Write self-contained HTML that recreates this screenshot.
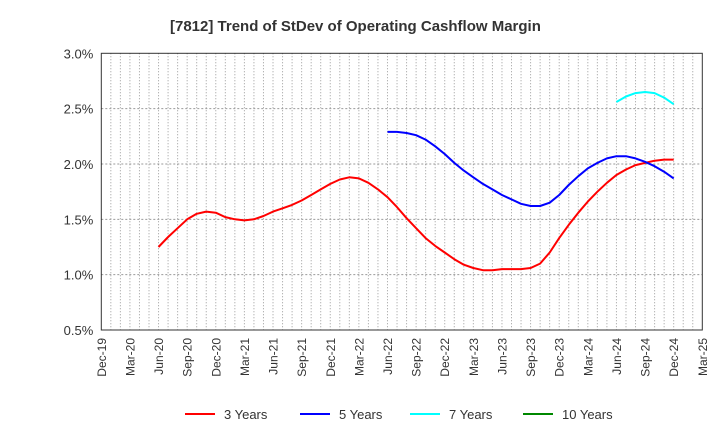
<!DOCTYPE html>
<html><head><meta charset="utf-8"><style>
body{margin:0;background:#fff;font-family:"Liberation Sans",sans-serif;}
</style></head><body>
<svg id="c" width="720" height="440" xmlns="http://www.w3.org/2000/svg">
<text x="170" y="31" font-size="15" font-weight="bold" fill="#333">[7812]  Trend of StDev of Operating Cashflow Margin</text>
<g id="grid"></g><g id="series"></g><g id="axes"></g><g id="legend"></g>
</svg>
<script>
const xTickLabels=["Dec-19","Mar-20","Jun-20","Sep-20","Dec-20","Mar-21","Jun-21","Sep-21","Dec-21","Mar-22","Jun-22","Sep-22","Dec-22","Mar-23","Jun-23","Sep-23","Dec-23","Mar-24","Jun-24","Sep-24","Dec-24","Mar-25"];
const yTicks=[0.5,1.0,1.5,2.0,2.5,3.0];
const start3=6;
const s3=[1.25,1.34,1.42,1.50,1.55,1.57,1.56,1.52,1.50,1.49,1.50,1.53,1.57,1.60,1.63,1.67,1.72,1.77,1.82,1.86,1.88,1.87,1.83,1.77,1.70,1.61,1.51,1.42,1.33,1.26,1.20,1.14,1.09,1.06,1.04,1.04,1.05,1.05,1.05,1.06,1.10,1.20,1.33,1.45,1.56,1.66,1.75,1.83,1.90,1.95,1.99,2.01,2.03,2.04,2.04];
const start5=30;
const s5=[2.29,2.29,2.28,2.26,2.22,2.16,2.09,2.01,1.94,1.88,1.82,1.77,1.72,1.68,1.64,1.62,1.62,1.65,1.72,1.81,1.89,1.96,2.01,2.05,2.07,2.07,2.05,2.02,1.98,1.93,1.87];
const start7=54;
const s7=[2.56,2.61,2.64,2.65,2.64,2.60,2.54];
const X0=101.3,X1=702.3,Y0=330,Y1=53.3,NM=63;
const xs=m=>X0+(X1-X0)*m/NM;
const ys=v=>Y0-(v-0.5)/2.5*(Y0-Y1);
const NS="http://www.w3.org/2000/svg";
function mk(t,a,p){const e=document.createElementNS(NS,t);for(const k in a)e.setAttribute(k,a[k]);p.appendChild(e);return e;}
const grid=document.getElementById('grid'),axes=document.getElementById('axes'),ser=document.getElementById('series'),leg=document.getElementById('legend');
for(let m=1;m<NM;m++){const l=mk('line',{x1:xs(m),x2:xs(m),y1:Y1,y2:Y0,stroke:'#999','stroke-dasharray':'1,2','stroke-width':1},grid);

}
yTicks.forEach(v=>{if(v>0.5&&v<3){const l=mk('line',{x1:X0,x2:X1,y1:ys(v),y2:ys(v),stroke:'#999','stroke-dasharray':'2,2'},grid);

}
const t=mk('text',{x:X0-8,y:ys(v)+5,'text-anchor':'end','font-size':13,fill:'#333'},axes);t.textContent=v.toFixed(1)+'%';

});
const fr=mk('rect',{x:X0,y:Y1,width:X1-X0,height:Y0-Y1,fill:'none',stroke:'#333','stroke-width':1},axes);


xTickLabels.forEach((s,i)=>{const x=xs(i*3);const t=mk('text',{x:0,y:0,transform:`translate(${x+4.5},${Y0+8}) rotate(-90)`,'text-anchor':'end','font-size':12,fill:'#333'},axes);t.textContent=s;

});
function line(vals,st,col,name){const pts=vals.map((v,i)=>xs(st+i).toFixed(1)+','+ys(v).toFixed(1)).join(' ');
const p=mk('polyline',{points:pts,fill:'none',stroke:col,'stroke-width':2,'stroke-linejoin':'round'},ser);

}
line(s3,start3,'#f00','series-3-years');
line(s5,start5,'#00f','series-5-years');
line(s7,start7,'#0ff','series-7-years');
[['3 Years','#f00',185],['5 Years','#00f',300],['7 Years','#0ff',410],['10 Years','#080',523]].forEach(([n,c,x])=>{
const g=mk('g',{},leg);


mk('line',{x1:x,x2:x+30,y1:414,y2:414,stroke:c,'stroke-width':2},g);
const t=mk('text',{x:x+39,y:419,'font-size':13,fill:'#333'},g);t.textContent=n;});
</script>
</body></html>
